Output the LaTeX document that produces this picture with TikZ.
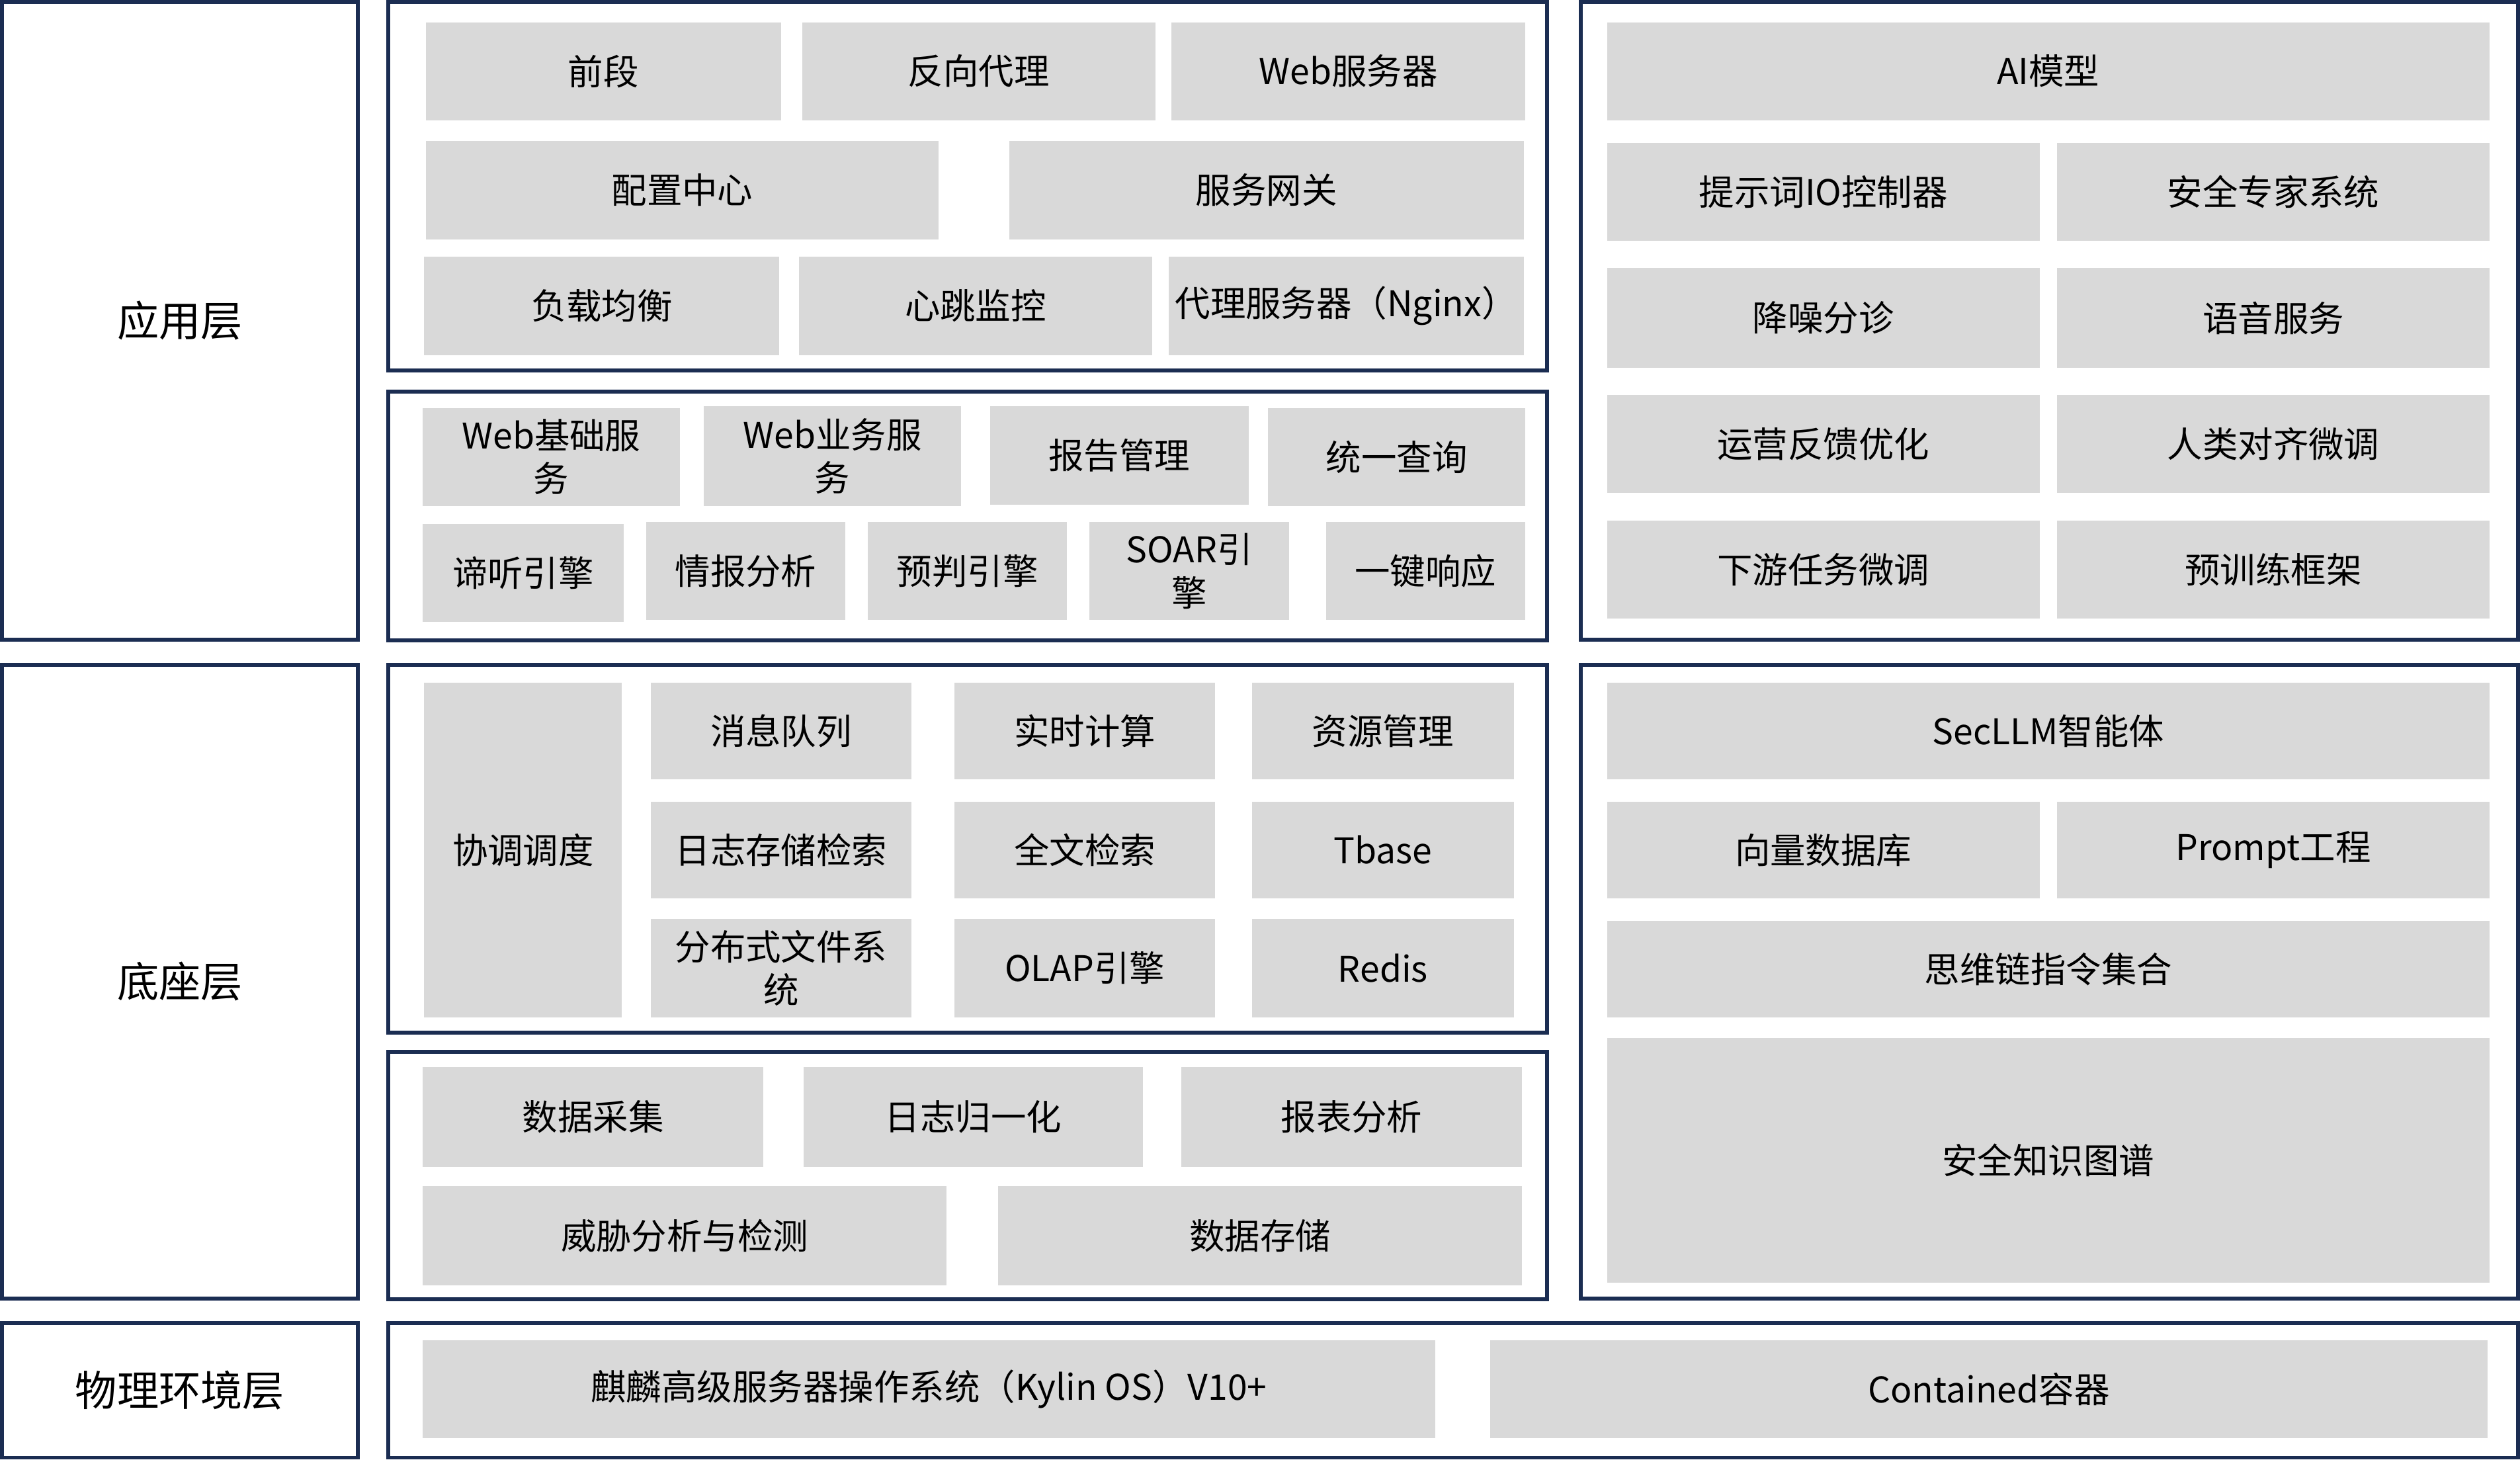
\documentclass[tikz,border=0pt]{standalone}
\usepackage{fontspec}
\setmainfont{Noto Sans CJK SC}
\definecolor{navy}{HTML}{1B2D52}
\definecolor{boxgray}{HTML}{D9D9D9}
\tikzset{
  gbox/.style={rectangle,fill=boxgray,draw=none,inner sep=0pt,align=center,
    font=\fontsize{22}{27}\selectfont},
  frame/.style={rectangle,draw=navy,line width=2.4pt,fill=white,inner sep=0pt,align=center,
    font=\fontsize{26}{32}\selectfont}
}
\newcommand{\gb}[6]{\node[gbox,minimum width={(#4-#2)*1pt},minimum height={(#5-#3)*1pt}] (#1) at ({(#2+#4)/2},{(#3+#5)/2+0.8}) {#6};}
\newcommand{\fr}[6]{\node[frame,minimum width={(#4-#2)*1pt},minimum height={(#5-#3)*1pt}] (#1) at ({(#2+#4)/2},{(#3+#5)/2}) {#6};}
\begin{document}
\begin{tikzpicture}[x=1pt,y=-1pt]
\fill[white] (0,0) rectangle (1568,908);
\useasboundingbox (0,0) rectangle (1568,908);
% frames
\fr{L1}{1.2}{1.2}{222.6}{397.8}{应用层}
\fr{L2}{1.2}{413.5}{222.6}{807.8}{底座层}
\fr{L3}{1.2}{823}{222.6}{906.8}{物理环境层}
\fr{M1}{241.5}{1.2}{962.5}{230.5}{}
\fr{M2}{241.5}{243.5}{962.5}{398.3}{}
\fr{M3}{241.5}{413.5}{962.5}{642.5}{}
\fr{M4}{241.5}{654.5}{962.5}{808.3}{}
\fr{P}{241.5}{823}{1566.8}{906.8}{}
\fr{R1}{983.5}{1.2}{1566.8}{397.8}{}
\fr{R2}{983.5}{413.5}{1566.8}{807.8}{}
% M1
\gb{a1}{265}{13}{486}{74}{前段}
\gb{a2}{499}{13}{719}{74}{反向代理}
\gb{a3}{729}{13}{949}{74}{Web服务器}
\gb{a4}{265}{87}{584}{148}{配置中心}
\gb{a5}{628}{87}{948}{148}{服务网关}
\gb{a6}{264}{159}{485}{220}{负载均衡}
\gb{a7}{497}{159}{717}{220}{心跳监控}
\gb{a8}{727}{159}{948}{220}{代理服务器（Nginx）}
% M2
\gb{b1}{263}{253}{423}{314}{Web基础服\\务}
\gb{b2}{438}{252}{598}{314}{Web业务服\\务}
\gb{b3}{616}{252}{777}{313}{报告管理}
\gb{b4}{789}{253}{949}{314}{统一查询}
\gb{b5}{263}{325}{388}{386}{谛听引擎}
\gb{b6}{402}{324}{526}{385}{情报分析}
\gb{b7}{540}{324}{664}{385}{预判引擎}
\gb{b8}{678}{324}{802}{385}{SOAR引\\擎}
\gb{b9}{825}{324}{949}{385}{一键响应}
% M3
\gb{c0}{264}{424}{387}{632}{协调调度}
\gb{c1}{405}{424}{567}{484}{消息队列}
\gb{c2}{594}{424}{756}{484}{实时计算}
\gb{c3}{779}{424}{942}{484}{资源管理}
\gb{c4}{405}{498}{567}{558}{日志存储检索}
\gb{c5}{594}{498}{756}{558}{全文检索}
\gb{c6}{779}{498}{942}{558}{Tbase}
\gb{c7}{405}{571}{567}{632}{分布式文件系\\统}
\gb{c8}{594}{571}{756}{632}{OLAP引擎}
\gb{c9}{779}{571}{942}{632}{Redis}
% M4
\gb{d1}{263}{663}{475}{725}{数据采集}
\gb{d2}{500}{663}{711}{725}{日志归一化}
\gb{d3}{735}{663}{947}{725}{报表分析}
\gb{d4}{263}{737}{589}{799}{威胁分析与检测}
\gb{d5}{621}{737}{947}{799}{数据存储}
% P
\gb{p1}{263}{833}{893}{894}{麒麟高级服务器操作系统（Kylin OS）V10+}
\gb{p2}{927}{833}{1548}{894}{Contained容器}
% R1
\gb{e1}{1000}{13}{1549}{74}{AI模型}
\gb{e2}{1000}{88}{1269}{149}{提示词IO控制器}
\gb{e3}{1280}{88}{1549}{149}{安全专家系统}
\gb{e4}{1000}{166}{1269}{228}{降噪分诊}
\gb{e5}{1280}{166}{1549}{228}{语音服务}
\gb{e6}{1000}{245}{1269}{306}{运营反馈优化}
\gb{e7}{1280}{245}{1549}{306}{人类对齐微调}
\gb{e8}{1000}{323}{1269}{384}{下游任务微调}
\gb{e9}{1280}{323}{1549}{384}{预训练框架}
% R2
\gb{f1}{1000}{424}{1549}{484}{SecLLM智能体}
\gb{f2}{1000}{498}{1269}{558}{向量数据库}
\gb{f3}{1280}{498}{1549}{558}{Prompt工程}
\gb{f4}{1000}{572}{1549}{632}{思维链指令集合}
\gb{f5}{1000}{645}{1549}{797}{安全知识图谱}
\end{tikzpicture}
\end{document}
